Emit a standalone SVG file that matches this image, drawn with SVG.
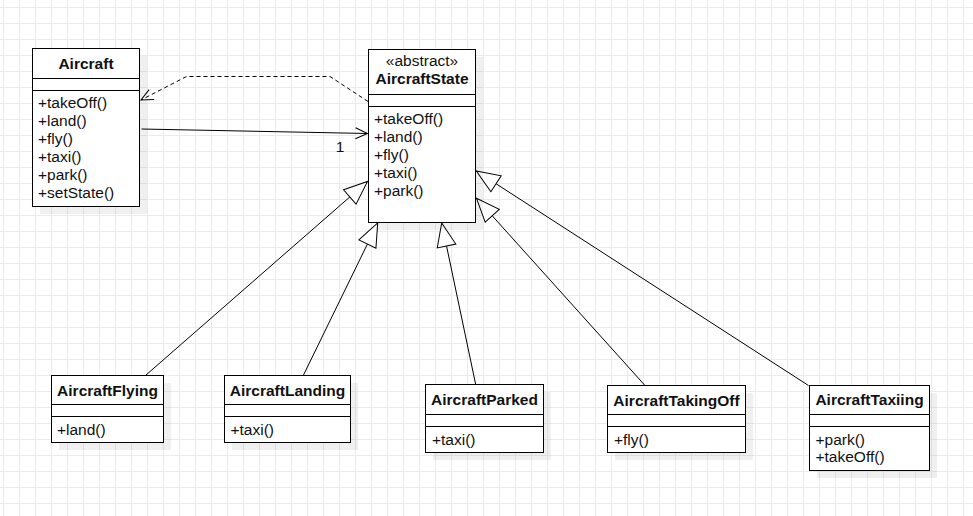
<svg xmlns="http://www.w3.org/2000/svg" width="973" height="516" viewBox="0 0 973 516">
<defs>
<pattern id="grid" x="3" y="7" width="16" height="16" patternUnits="userSpaceOnUse">
<path d="M0 0.5H16M0.5 0V16" fill="none" stroke="#ebebeb" stroke-width="1"/>
</pattern>
<marker id="open" markerUnits="userSpaceOnUse" markerWidth="14" markerHeight="13" viewBox="0 0 14 13" refX="13" refY="6.5" orient="auto">
<path d="M1,1 L13,6.5 L1,12" fill="none" stroke="#000" stroke-width="1"/>
</marker>
<marker id="tri" markerUnits="userSpaceOnUse" markerWidth="26" markerHeight="22" viewBox="0 0 26 22" refX="24.5" refY="11" orient="auto">
<path d="M1,1.5 L24.5,11 L1,20.5 Z" fill="#fff" stroke="#000" stroke-width="1"/>
</marker>
</defs>
<style>
.box{fill:#fff;stroke:#000;stroke-width:1}
.sh{fill:#000;fill-opacity:0.06}
.sep{stroke:#000;stroke-width:1}
.t{font-family:"Liberation Sans",Arial,sans-serif;font-size:15.5px;fill:#111}
.b{font-weight:bold;text-anchor:middle}
.c{text-anchor:middle}
.ln{fill:none;stroke:#000;stroke-width:1}
.dash{stroke-dasharray:4 3}
</style>
<rect width="973" height="516" fill="#fff"/>
<rect width="973" height="516" fill="url(#grid)"/>

<g id="connectors">
<path class="ln dash" d="M368,101.5 L330,76.5 L186.5,76.5 L141,100" marker-end="url(#open)"/>
<path class="ln" d="M141.5,129 L367.5,133.5" marker-end="url(#open)"/>
<text class="t c" x="340" y="152">1</text>
<path class="ln" d="M146,375 L367.5,181.5" marker-end="url(#tri)"/>
<path class="ln" d="M303.5,375 L377.7,223" marker-end="url(#tri)"/>
<path class="ln" d="M475.7,384.5 L441.7,223" marker-end="url(#tri)"/>
<path class="ln" d="M645,385.5 L476.5,198.3" marker-end="url(#tri)"/>
<path class="ln" d="M808.5,385.5 L476.3,171" marker-end="url(#tri)"/>
</g>

<g id="Aircraft">
<rect class="sh" x="40" y="56" width="107" height="158"/>
<rect class="box" x="32.5" y="48.5" width="107" height="158"/>
<path class="sep" d="M32.5,78.5H139.5M32.5,90.5H139.5"/>
<text class="t b" x="86" y="69">Aircraft</text>
<text class="t" x="38" y="108">+takeOff()</text>
<text class="t" x="38" y="126">+land()</text>
<text class="t" x="38" y="144">+fly()</text>
<text class="t" x="38" y="162">+taxi()</text>
<text class="t" x="38" y="180">+park()</text>
<text class="t" x="38" y="198">+setState()</text>
</g>

<g id="AircraftState">
<rect class="sh" x="376" y="57" width="107" height="173"/>
<rect class="box" x="368.5" y="49.5" width="107" height="173"/>
<path class="sep" d="M368.5,94.5H475.5M368.5,106.5H475.5"/>
<text class="t c" x="422" y="66">«abstract»</text>
<text class="t b" x="422" y="84">AircraftState</text>
<text class="t" x="374" y="124">+takeOff()</text>
<text class="t" x="374" y="142">+land()</text>
<text class="t" x="374" y="160">+fly()</text>
<text class="t" x="374" y="178">+taxi()</text>
<text class="t" x="374" y="196">+park()</text>
</g>

<g id="AircraftFlying">
<rect class="sh" x="59" y="383" width="112" height="67"/>
<rect class="box" x="51.5" y="375.5" width="112" height="67"/>
<path class="sep" d="M51.5,404.5H163.5M51.5,416.5H163.5"/>
<text class="t b" x="107.5" y="396">AircraftFlying</text>
<text class="t" x="57" y="435">+land()</text>
</g>

<g id="AircraftLanding">
<rect class="sh" x="232" y="383" width="126" height="67"/>
<rect class="box" x="224.5" y="375.5" width="126" height="67"/>
<path class="sep" d="M224.5,404.5H350.5M224.5,416.5H350.5"/>
<text class="t b" x="287.5" y="396">AircraftLanding</text>
<text class="t" x="230.5" y="435">+taxi()</text>
</g>

<g id="AircraftParked">
<rect class="sh" x="433" y="392" width="118" height="68"/>
<rect class="box" x="425.5" y="384.5" width="118" height="68"/>
<path class="sep" d="M425.5,414.5H543.5M425.5,426.5H543.5"/>
<text class="t b" x="484.5" y="405">AircraftParked</text>
<text class="t" x="432" y="445">+taxi()</text>
</g>

<g id="AircraftTakingOff">
<rect class="sh" x="615" y="393" width="138" height="67"/>
<rect class="box" x="607.5" y="385.5" width="138" height="67"/>
<path class="sep" d="M607.5,414.5H745.5M607.5,426.5H745.5"/>
<text class="t b" x="676.5" y="406">AircraftTakingOff</text>
<text class="t" x="614" y="445">+fly()</text>
</g>

<g id="AircraftTaxiing">
<rect class="sh" x="817" y="393" width="120" height="85"/>
<rect class="box" x="809.5" y="385.5" width="120" height="85"/>
<path class="sep" d="M809.5,414.5H929.5M809.5,426.5H929.5"/>
<text class="t b" x="869.5" y="405">AircraftTaxiing</text>
<text class="t" x="815.5" y="445">+park()</text>
<text class="t" x="815.5" y="462">+takeOff()</text>
</g>
</svg>
